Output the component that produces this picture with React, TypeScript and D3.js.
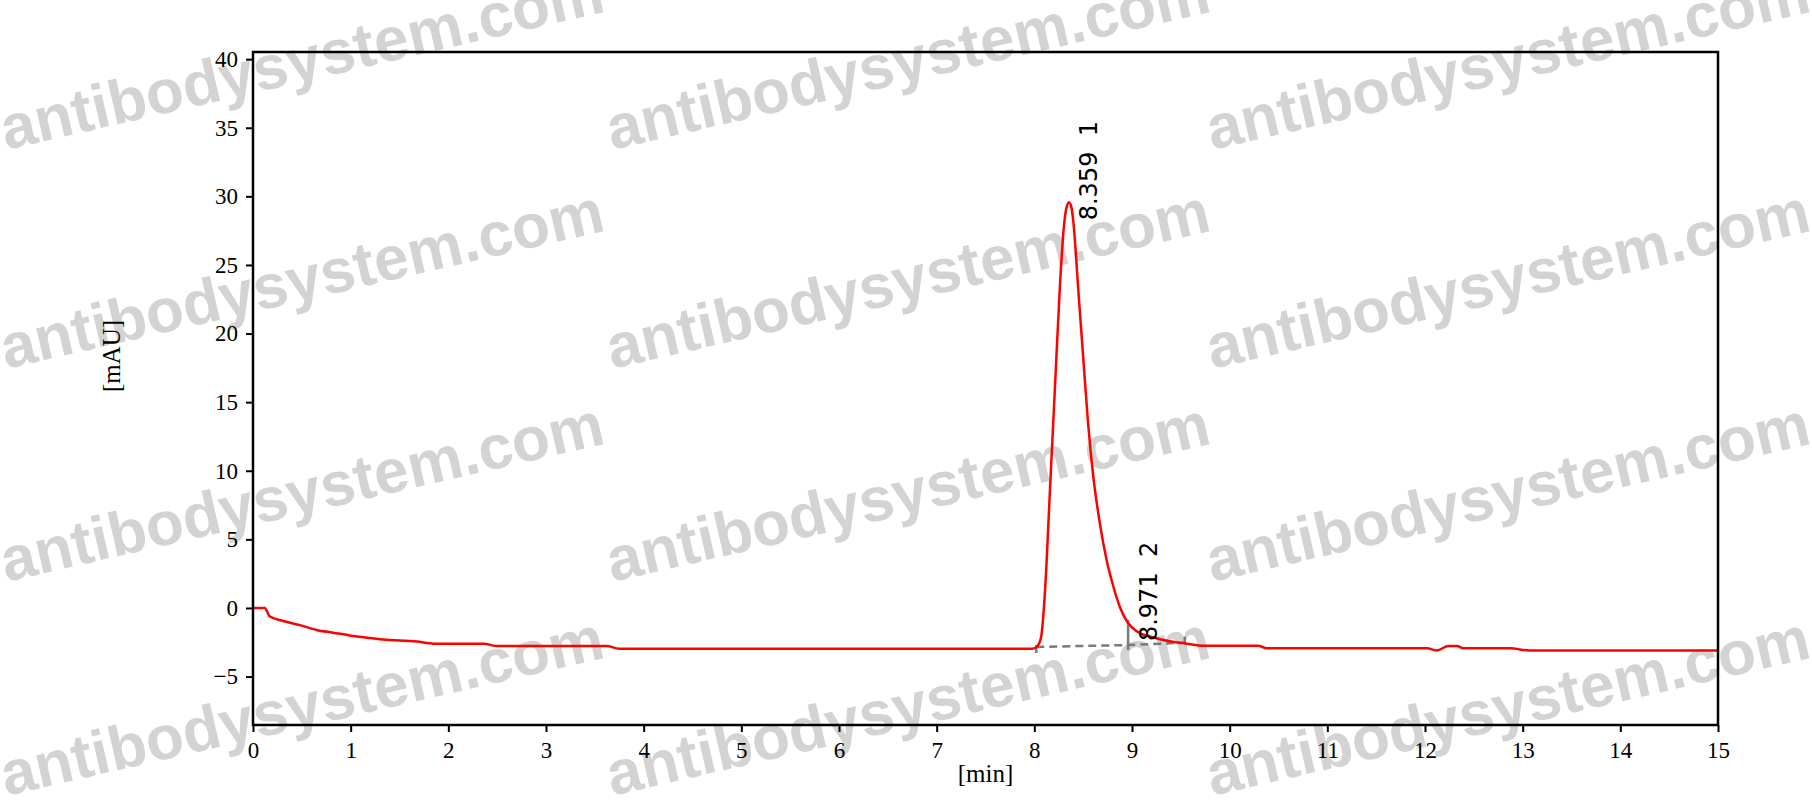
import { useEffect, useRef } from 'react';
import * as d3 from 'd3';

// chromatogram trace (min, mAU)
const TIME = [
  0, 0.12, 0.17, 0.31, 0.48, 0.65, 0.82, 0.99, 1.15, 1.33, 1.68, 1.85, 2.36, 2.5, 3.62, 3.75,
  7.98, 8.03, 8.07, 8.11, 8.16, 8.21, 8.26, 8.3, 8.33, 8.355, 8.38, 8.4, 8.45, 8.5, 8.55, 8.6,
  8.67, 8.74, 8.8, 8.88, 8.96, 9.05, 9.22, 9.4, 9.56, 9.73, 10.29, 10.38, 12.02, 12.12, 12.24,
  12.33, 12.39, 12.87, 13.07, 15,
];
const SIGNAL = [
  0, 0, -0.6, -0.95, -1.25, -1.6, -1.8, -2.0, -2.15, -2.3, -2.45, -2.6, -2.6, -2.78, -2.78, -2.97,
  -2.97, -2.8, -2.1, 1.3, 8.6, 15.9, 23.2, 27.6, 29.2, 29.55, 29.2, 28.1, 23.2, 18.3, 13.5, 9.8,
  6.2, 3.5, 1.8, 0.0, -1.1, -1.7, -2.15, -2.45, -2.6, -2.75, -2.75, -2.94, -2.94, -3.1, -2.77,
  -2.77, -2.94, -2.94, -3.1, -3.1,
];

// integration baseline
const BASE_T = [8.02, 8.96, 9.54];
const BASE_V = [-2.84, -2.7, -2.53];

// peak annotations
const PEAK_T = [8.359, 8.971];
const PEAK_ID = ['1', '2'];

const X_TICKS = d3.range(0, 16);
const Y_TICKS = [-5, 0, 5, 10, 15, 20, 25, 30, 35, 40];

const WATERMARK = 'antibodysystem.com';

export default function App() {
  const svgRef = useRef<SVGSVGElement>(null);

  useEffect(() => {
    const el = svgRef.current;
    if (!el) return;
    const svg = d3.select(el);
    svg.selectAll('*').remove();

    const W = 1812;
    const H = 805;
    const margin = { top: 52, right: 94, bottom: 80, left: 253 };
    const iW = W - margin.left - margin.right;
    const iH = H - margin.top - margin.bottom;

    // watermark, behind everything
    const wm = svg.append('g');
    [6, 612, 1212].forEach((wx) => {
      [150, 369, 582, 796].forEach((wy) => {
        wm.append('text')
          .attr('transform', `translate(${wx},${wy}) rotate(-13)`)
          .attr('font-family', "'Liberation Sans', Arial, sans-serif")
          .attr('font-weight', 700)
          .attr('font-size', 62)
          .attr('fill', '#d3d3d3')
          .text(WATERMARK);
      });
    });

    const g = svg.append('g').attr('transform', `translate(${margin.left},${margin.top})`);

    const x = d3.scaleLinear().domain([0, 15]).range([0, iW]);
    const y = d3.scaleLinear().domain([-8.53, 40.52]).range([iH, 0]);

    const pts = TIME.map((t, i) => [t, SIGNAL[i]] as [number, number]);
    const line = d3.line<[number, number]>()
      .x((d) => x(d[0]))
      .y((d) => y(d[1]))
      .curve(d3.curveMonotoneX);

    // integration baseline (dashed)
    const bpts = BASE_T.map((t, i) => [t, BASE_V[i]] as [number, number]);
    g.append('path')
      .attr('d', d3.line<[number, number]>().x((d) => x(d[0])).y((d) => y(d[1]))(bpts))
      .attr('fill', 'none')
      .attr('stroke', '#7a7a7a')
      .attr('stroke-width', 2.5)
      .attr('stroke-dasharray', '8,5');
    const tickExt = [[-2, 6], [-25, 5], [-6, 1]];
    bpts.forEach((d, i) => {
      g.append('line')
        .attr('x1', x(d[0])).attr('x2', x(d[0]))
        .attr('y1', y(d[1]) + tickExt[i][0]).attr('y2', y(d[1]) + tickExt[i][1])
        .attr('stroke', '#7a7a7a')
        .attr('stroke-width', 2.5);
    });

    // trace
    g.append('path')
      .attr('d', line(pts))
      .attr('fill', 'none')
      .attr('stroke', '#ff0000')
      .attr('stroke-width', 2.5);

    // peak labels
    const interp = (t: number) => {
      const i = d3.bisectRight(TIME, t);
      const t0 = TIME[i - 1], t1 = TIME[i];
      return SIGNAL[i - 1] + (SIGNAL[i] - SIGNAL[i - 1]) * (t - t0) / (t1 - t0);
    };
    PEAK_T.forEach((t, i) => {
      const px = x(t) + 28;
      const py = y(Math.max(interp(t), -1.2)) + 17;
      g.append('text')
        .attr('transform', `translate(${px},${py}) rotate(-90)`)
        .attr('font-family', "'DejaVu Sans', Verdana, sans-serif")
        .attr('font-size', 24)
        .attr('fill', '#000')
        .style('white-space', 'pre')
        .text(`${t.toFixed(3)}  ${PEAK_ID[i]}`);
    });

    // frame
    g.append('rect')
      .attr('x', 0).attr('y', 0)
      .attr('width', iW).attr('height', iH)
      .attr('fill', 'none')
      .attr('stroke', '#000')
      .attr('stroke-width', 2.5);

    // axes
    const xAxis = g.append('g').attr('transform', `translate(0,${iH})`)
      .call(d3.axisBottom(x).tickValues(X_TICKS).tickSize(7).tickPadding(10).tickFormat(d3.format('d')));
    const yAxis = g.append('g')
      .call(d3.axisLeft(y).tickValues(Y_TICKS).tickSize(7).tickPadding(8).tickFormat(d3.format('d')));
    [xAxis, yAxis].forEach((a) => {
      a.attr('font-family', "'Liberation Serif', 'Times New Roman', serif").attr('font-size', 23);
      a.select('.domain').remove();
      a.selectAll('line').attr('stroke', '#000').attr('stroke-width', 2);
      a.selectAll('text')
        .attr('fill', '#000')
        .attr('font-size', 23)
        .attr('font-family', "'Liberation Serif', 'Times New Roman', serif");
    });

    // axis titles
    svg.append('text')
      .attr('x', margin.left + iW / 2)
      .attr('y', 782)
      .attr('text-anchor', 'middle')
      .attr('font-size', 25)
      .attr('font-family', "'Liberation Serif', 'Times New Roman', serif")
      .text('[min]');
    svg.append('text')
      .attr('transform', 'translate(120,356) rotate(-90)')
      .attr('text-anchor', 'middle')
      .attr('font-size', 25)
      .attr('font-family', "'Liberation Serif', 'Times New Roman', serif")
      .text('[mAU]');
  }, []);

  return (
    <svg
      ref={svgRef}
      width={1812}
      height={805}
      style={{ position: 'absolute', left: 0, top: 0, background: '#fff' }}
    />
  );
}
